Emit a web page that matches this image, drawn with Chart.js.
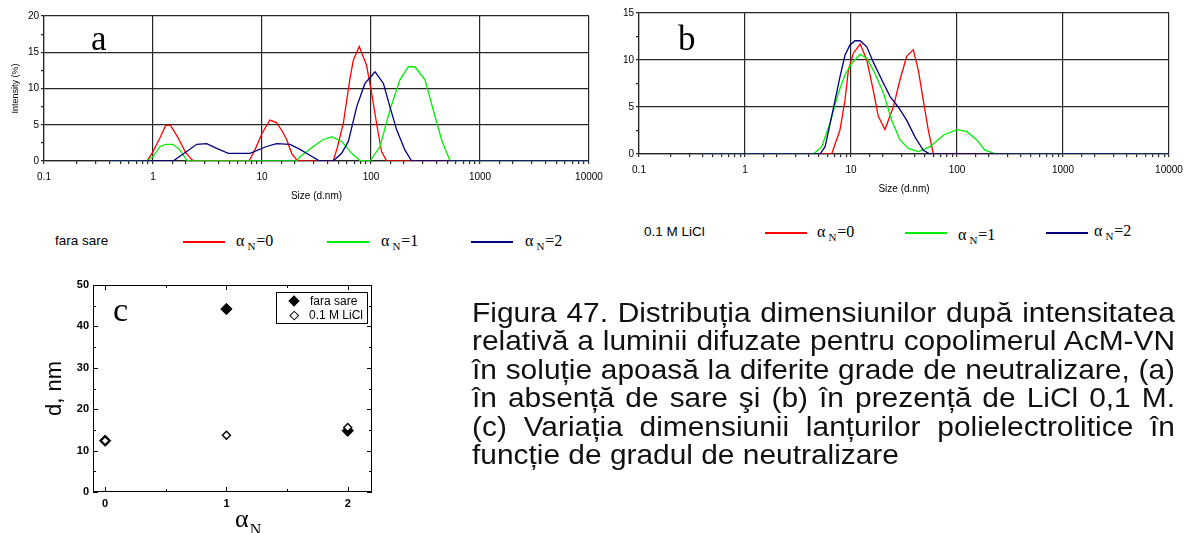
<!DOCTYPE html>
<html>
<head>
<meta charset="utf-8">
<script src="https://cdn.jsdelivr.net/npm/chart.js@4.4.0/dist/chart.umd.min.js"></script>
<style>
  body { margin: 0; width: 1185px; height: 533px; overflow: hidden; background: #fff; position: relative; }
  canvas { position: absolute; }
  .t { position: absolute; white-space: nowrap; line-height: 1; color: #000; }
  .serif { font-family: "Liberation Serif", "DejaVu Serif", serif; }
  .sans { font-family: "Liberation Sans", Arial, sans-serif; }
  .key { position: absolute; height: 1.5px; }
  .cap { position: absolute; left: 472px; font-family: "Liberation Sans", Arial, sans-serif; line-height: 1;
         text-align: justify; text-align-last: justify; transform-origin: 0 0; color: #111; }
</style>
</head>
<body>
<canvas id="chartA" width="615" height="205" style="left:0;top:0"></canvas>
<canvas id="chartB" width="585" height="200" style="left:600px;top:0"></canvas>
<canvas id="chartC" width="400" height="263" style="left:0;top:270px"></canvas>

<!-- panel letters -->
<div class="t serif" style="left:91px;top:21px;font-size:35px">a</div>
<div class="t serif" style="left:678px;top:21px;font-size:35px">b</div>
<div class="t serif" style="left:113px;top:293px;font-size:34px">c</div>

<!-- legend of panel c -->
<div style="position:absolute;left:276px;top:292px;width:90px;height:30px;border:1px solid #000;background:#fff"></div>
<div style="position:absolute;left:290px;top:297px;width:8px;height:8px;background:#000;transform:rotate(45deg)"></div>
<div style="position:absolute;left:291px;top:312px;width:4.5px;height:4.5px;border:1.3px solid #000;background:#fff;transform:rotate(45deg)"></div>
<div class="t sans" style="left:310px;top:295px;font-size:12px">fara sare</div>
<div class="t sans" style="left:309px;top:309px;font-size:12px">0.1 M LiCl</div>

<!-- x title of panel c -->
<div class="t serif" style="left:235px;top:506px;font-size:26px">α<span style="font-size:16px;position:relative;top:8px;margin-left:1px">N</span></div>

<script>
// DLS size distributions, no salt (panel a): size in nm, intensity in %
const sizeA0 = [0.4, 0.88, 1.0, 1.16, 1.31, 1.45, 1.7, 1.97, 2.26, 2.45, 7.6, 8.6, 10.0, 11.8, 13.6, 15.5, 16.9, 18.7, 20.8, 22, 45, 49, 55.7, 64, 68.8, 78, 91, 101, 113, 125, 139, 10000];
const intA0  = [0, 0, 1.3, 3.2, 4.95, 4.9, 3.2, 1.3, 0.2, 0, 0, 1.5, 3.8, 5.65, 5.3, 4.0, 2.9, 1.06, 0.15, 0, 0, 1.8, 5.2, 11.3, 13.9, 15.8, 13.2, 9.5, 5.0, 1.3, 0, 0];
const sizeA1 = [0.4, 0.88, 1.0, 1.16, 1.31, 1.53, 1.77, 2.04, 2.2, 20.8, 22.3, 29.5, 36, 43.5, 53.8, 66.5, 79, 90, 98, 121, 149, 184, 220, 253, 313, 373, 445, 531, 10000];
const intA1  = [0, 0, 0.6, 2.0, 2.3, 2.3, 1.5, 0.1, 0, 0, 0.6, 2.0, 2.9, 3.35, 2.7, 1.06, 0.1, 0, 0, 2.0, 7.0, 11.2, 13.0, 13.0, 11.2, 7.0, 2.9, 0, 0];
const sizeA2 = [0.4, 1.53, 2.04, 2.52, 3.11, 3.84, 4.91, 7.76, 11.0, 13.6, 18.1, 22.3, 27.5, 32.9, 36, 45, 53.8, 62, 74, 88, 109, 130, 149, 172, 205, 236, 10000];
const intA2  = [0, 0, 1.3, 2.3, 2.4, 1.75, 1.06, 1.06, 2.0, 2.4, 2.3, 1.6, 0.8, 0.1, 0, 0, 1.06, 2.7, 7.5, 10.7, 12.3, 10.7, 7.5, 4.3, 1.5, 0, 0];

// DLS size distributions in 0.1 M LiCl (panel b)
const sizeB0 = [0.4, 6.57, 7.87, 8.77, 9.44, 10.5, 12.2, 14.1, 16.2, 18.1, 20.9, 25.1, 29, 33.5, 38.7, 43.2, 48.1, 53.6, 59.8, 10000];
const intB0  = [0, 0, 2.55, 5.7, 8.9, 10.7, 11.7, 10.0, 6.8, 4.0, 2.6, 5.0, 7.9, 10.4, 11.1, 8.9, 5.7, 2.55, 0, 0];
const sizeB1 = [0.4, 4.42, 5.3, 6.34, 7.6, 8.77, 10.1, 12.2, 14.1, 16.8, 20.2, 24.2, 29, 34.8, 43.2, 55.6, 74.3, 99.3, 123.5, 153.5, 183.7, 235, 10000];
const intB1  = [0, 0, 0.78, 3.3, 6.5, 8.4, 9.6, 10.6, 10.2, 8.6, 6.5, 3.6, 1.5, 0.6, 0.25, 0.78, 2.0, 2.6, 2.4, 1.5, 0.4, 0, 0];
const sizeB2 = [0.4, 5.1, 5.7, 6.57, 7.87, 8.77, 9.77, 10.9, 12.2, 14.1, 16.2, 19.5, 23.4, 27.9, 33.5, 40.2, 48.1, 55.6, 10000];
const intB2  = [0, 0, 0.78, 4.0, 8.2, 10.5, 11.6, 12.05, 12.05, 11.4, 9.8, 7.9, 6.1, 5.0, 3.6, 1.8, 0.4, 0, 0];

// Mean diameter vs degree of neutralization (panel c)
const alphaN  = [0, 1, 2];
const dNoSalt = [12.4, 44.2, 14.8];
const dLiCl   = [12.4, 13.7, 15.6];
const xTicksC = [0, 0.5, 1, 1.5, 2];

const seriesColors = ['#ff0000', '#00ee00', '#000080'];
const seriesLabels = ['0', '1', '2'];

const captionLines = [
  "Figura 47. Distribuția dimensiunilor după intensitatea",
  "relativă a luminii difuzate pentru copolimerul AcM-VN",
  "în soluție apoasă la diferite grade de neutralizare, (a)",
  "în absență de sare şi (b) în prezență de LiCl 0,1 M.",
  "(c) Variația dimensiunii lanțurilor polielectrolitice în",
  "funcție de gradul de neutralizare"
];

const dark = '#262626';
const sansFamily = '"Liberation Sans", Arial, sans-serif';
const tickFont = { family: sansFamily, size: 10 };

function isDecade(v) {
  const l = Math.log10(v);
  return Math.abs(l - Math.round(l)) < 1e-6;
}

function series(sizes, vals, i) {
  return {
    label: 'αN=' + seriesLabels[i],
    data: sizes.map((x, k) => ({ x: x, y: vals[k] })),
    borderColor: seriesColors[i],
    showLine: true,
    order: 3 - i   // blue on top, then green, then red
  };
}

function dlsOptions(cfg) {
  return {
    responsive: false,
    animation: false,
    layout: { padding: { left: 0, top: cfg.top, right: cfg.right, bottom: 0 } },
    plugins: { legend: { display: false }, tooltip: { enabled: false } },
    elements: { point: { radius: 0 }, line: { borderWidth: 1.3, tension: 0 } },
    scales: {
      x: {
        type: 'logarithmic',
        min: 0.1,
        max: 10000,
        afterFit: s => { s.height = cfg.xAxisH; s.paddingLeft = 0; s.paddingRight = 0; },
        grid: {
          color: c => (c.tick && isDecade(c.tick.value)) ? dark : 'rgba(0,0,0,0)',
          tickColor: dark, tickLength: 3, lineWidth: 1.2
        },
        border: { color: dark, width: 1.2 },
        ticks: {
          autoSkip: false, maxRotation: 0, padding: cfg.xPad, color: '#000', font: tickFont,
          callback: v => isDecade(v) ? String(v) : ''
        },
        title: {
          display: true, text: 'Size (d.nm)', color: '#000',
          font: { family: sansFamily, size: 10 }, padding: { top: 0, bottom: cfg.titlePad }
        }
      },
      y: {
        min: 0,
        max: cfg.yMax,
        afterFit: s => { s.width = cfg.yAxisW; s.paddingTop = 0; s.paddingBottom = 0; },
        grid: {
          color: c => (c.tick && c.tick.value % 5 === 0) ? dark : 'rgba(0,0,0,0)',
          tickColor: dark, tickLength: 3, lineWidth: 1.2
        },
        border: { color: dark, width: 1.2 },
        ticks: {
          stepSize: 2.5, padding: 2, color: '#000', font: tickFont,
          callback: v => v % 5 === 0 ? v : ''
        },
        title: cfg.yTitle
          ? { display: true, text: cfg.yTitle, color: '#000', font: { family: sansFamily, size: 9 }, padding: { top: 10, bottom: 0 } }
          : { display: false }
      }
    }
  };
}

// Panel a: no salt
new Chart(document.getElementById('chartA'), {
  type: 'scatter',
  data: { datasets: [series(sizeA0, intA0, 0), series(sizeA1, intA1, 1), series(sizeA2, intA2, 2)] },
  options: dlsOptions({ top: 16, right: 26, xAxisH: 44, yAxisW: 44, yMax: 20, xPad: 7, titlePad: 3, yTitle: 'Intensity (%)' })
});

// Panel b: 0.1 M LiCl
new Chart(document.getElementById('chartB'), {
  type: 'scatter',
  data: { datasets: [series(sizeB0, intB0, 0), series(sizeB1, intB1, 1), series(sizeB2, intB2, 2)] },
  options: dlsOptions({ top: 13, right: 16, xAxisH: 46, yAxisW: 39, yMax: 15, xPad: 7, titlePad: 5 })
});

// Frame with inward ticks on all four sides (panel c)
const frameTicks = {
  id: 'frameTicks',
  afterDraw(chart) {
    const { ctx, chartArea: a, scales: { x, y } } = chart;
    ctx.save();
    ctx.strokeStyle = '#000';
    ctx.lineWidth = 1;
    ctx.strokeRect(a.left + 0.5, a.top + 0.5, a.right - a.left - 1, a.bottom - a.top - 1);
    ctx.beginPath();
    x.ticks.forEach(t => {
      const px = Math.round(x.getPixelForValue(t.value)) + 0.5;
      const len = Number.isInteger(t.value) ? 5 : 3;
      ctx.moveTo(px, a.bottom); ctx.lineTo(px, a.bottom - len);
      ctx.moveTo(px, a.top); ctx.lineTo(px, a.top + len);
    });
    y.ticks.forEach(t => {
      const py = Math.round(y.getPixelForValue(t.value)) + 0.5;
      const len = t.value % 10 === 0 ? 5 : 3;
      ctx.moveTo(a.left, py); ctx.lineTo(a.left + len, py);
      ctx.moveTo(a.right, py); ctx.lineTo(a.right - len, py);
    });
    ctx.stroke();
    ctx.restore();
  }
};

const boldTick = { family: sansFamily, size: 11, weight: 'bold' };

// Panel c: diameter vs alpha_N
new Chart(document.getElementById('chartC'), {
  type: 'scatter',
  data: {
    datasets: [
      {
        label: 'fara sare',
        data: alphaN.map((x, i) => ({ x: x, y: dNoSalt[i] })),
        pointStyle: 'rectRot', pointRadius: 5.7,
        backgroundColor: '#000', borderColor: '#000', borderWidth: 1, order: 2
      },
      {
        label: '0.1 M LiCl',
        data: alphaN.map((x, i) => ({ x: x, y: dLiCl[i] })),
        pointStyle: 'rectRot', pointRadius: 4,
        backgroundColor: '#fff', borderColor: '#000', borderWidth: 1.4, order: 1
      }
    ]
  },
  options: {
    responsive: false,
    animation: false,
    layout: { padding: { left: 0, top: 15, right: 28, bottom: 0 } },
    plugins: { legend: { display: false }, tooltip: { enabled: false } },
    scales: {
      x: {
        min: -0.1,
        max: 2.2,
        afterBuildTicks: s => { s.ticks = xTicksC.map(v => ({ value: v })); },
        afterFit: s => { s.height = 41; s.paddingLeft = 0; s.paddingRight = 0; },
        grid: { display: false, drawTicks: false },
        border: { display: false },
        ticks: { autoSkip: false, maxRotation: 0, padding: 5, color: '#000', font: boldTick,
                 callback: v => Number.isInteger(v) ? v : '' }
      },
      y: {
        min: 0,
        max: 50,
        afterFit: s => { s.width = 93; s.paddingTop = 0; s.paddingBottom = 0; },
        grid: { display: false, drawTicks: false },
        border: { display: false },
        ticks: { stepSize: 5, padding: 4, color: '#000', font: boldTick,
                 callback: v => v % 10 === 0 ? v : '' },
        title: { display: true, text: 'd, nm', color: '#000', font: { family: sansFamily, size: 22 }, padding: { top: 42, bottom: 0 } }
      }
    }
  },
  plugins: [frameTicks]
});

// Line legends under panels a and b
function addText(html, left, top, size, cls) {
  const d = document.createElement('div');
  d.className = 't ' + cls;
  d.style.left = left + 'px';
  d.style.top = top + 'px';
  d.style.fontSize = size + 'px';
  d.innerHTML = html;
  document.body.appendChild(d);
}

function addLegendRow(title, titleX, y, lineXs, textXs, textDy) {
  addText(title, titleX, y - 8, 13.5, 'sans');
  seriesColors.forEach((c, i) => {
    const k = document.createElement('div');
    k.className = 'key';
    k.style.left = lineXs[i] + 'px';
    k.style.top = (y - 1) + 'px';
    k.style.width = '42px';
    k.style.background = c;
    document.body.appendChild(k);
    addText('α<span style="font-size:11px;position:relative;top:4px;margin:0 1px 0 3px">N</span>=' + seriesLabels[i],
      textXs[i], y - 9 + (textDy[i] || 0), 16, 'serif');
  });
}

addLegendRow('fara sare', 55, 242, [183, 327, 471], [236, 381, 525], [0, 0, 0]);
addLegendRow('0.1 M LiCl', 644, 233, [765, 905, 1046], [817, 958, 1094], [0, 3, -1]);

// Caption, justified to a fixed column width with slightly condensed glyphs
(function () {
  const capLeft = 472, capWidth = 703, capBase = 322, capStep = 28.5, capSize = 27.5;
  const m = document.createElement('canvas').getContext('2d');
  m.font = capSize + 'px "Liberation Sans"';
  const natural = Math.max(...captionLines.slice(0, -1).map(t => m.measureText(t).width));
  const sx = capWidth / (natural + 2);
  captionLines.forEach((t, i) => {
    const d = document.createElement('div');
    d.className = 'cap';
    d.textContent = t;
    d.style.fontSize = capSize + 'px';
    d.style.left = capLeft + 'px';
    d.style.top = (capBase + i * capStep - 0.8465 * capSize) + 'px';
    d.style.width = (capWidth / sx) + 'px';
    d.style.transform = 'scaleX(' + sx + ')';
    if (i === captionLines.length - 1) d.style.textAlignLast = 'left';
    document.body.appendChild(d);
  });
})();
</script>
</body>
</html>
